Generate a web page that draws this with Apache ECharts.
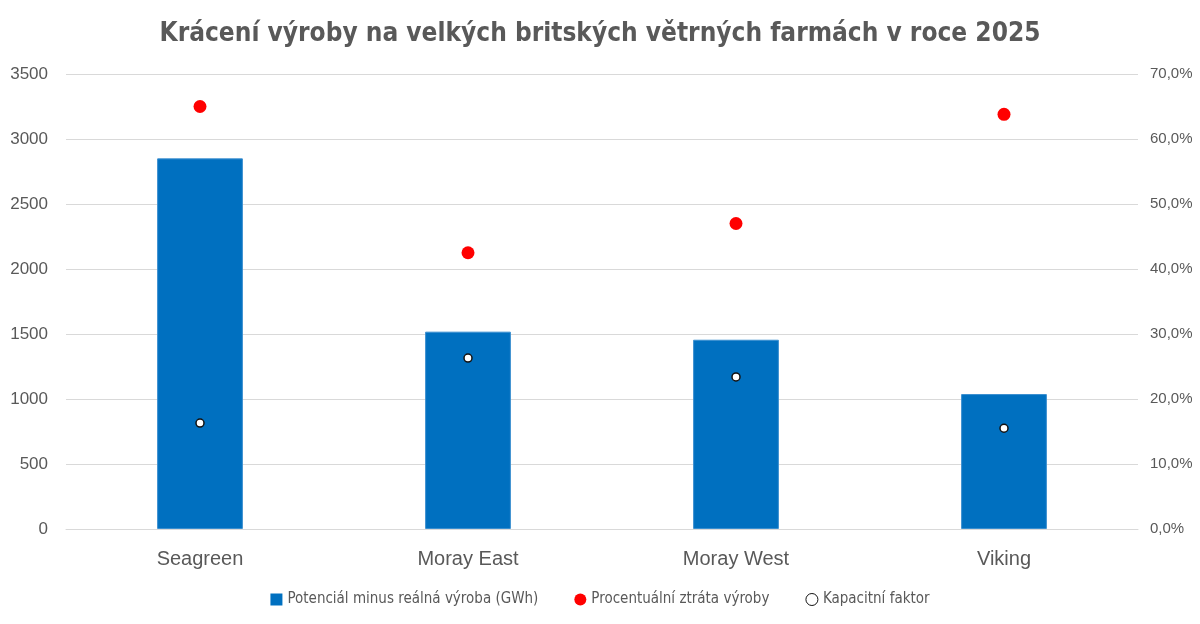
<!DOCTYPE html>
<html>
<head>
<meta charset="utf-8">
<script src="https://cdn.jsdelivr.net/npm/echarts@6/dist/echarts.min.js"></script>
<style>
  html, body { margin: 0; padding: 0; background: #fff; }
  #chart { width: 1200px; height: 624px; }
</style>
</head>
<body>
<div id="chart"></div>
<script>
'use strict';

const farms = ['Seagreen', 'Moray East', 'Moray West', 'Viking'];
const lostGwh = [2851, 1518, 1456, 1038];
const lossPct = [65.0, 42.5, 47.0, 63.8];
const capFactor = [16.3, 26.3, 23.4, 15.5];

const leftTicks = [0, 500, 1000, 1500, 2000, 2500, 3000, 3500];
const rightTicks = [0, 10, 20, 30, 40, 50, 60, 70];

const grey = '#595959';
const gridLine = '#d9d9d9';
const narrow = 'DejaVu Sans Condensed';

const fmtPct = (v) => v.toFixed(1).replace('.', ',') + '%';

const chart = echarts.init(document.getElementById('chart'), null, {renderer: 'canvas'});

chart.setOption({
    animation: false,
    title: {
        text: 'Krácení výroby na velkých britských větrných farmách v roce 2025',
        left: 'center',
        top: 16,
        textStyle: {
            fontFamily: narrow,
            fontWeight: 'bold',
            fontSize: 26,
            color: grey
        }
    },
    legend: {
        bottom: 12,
        left: 'center',
        itemGap: 36,
        itemWidth: 12,
        itemHeight: 12,
        textStyle: {fontFamily: narrow, fontSize: 15, color: grey},
        data: [
            {name: 'Potenciál minus reálná výroba (GWh)', icon: 'rect', itemStyle: {color: '#0070C0', borderWidth: 0}},
            {name: 'Procentuální ztráta výroby', icon: 'circle'},
            {name: 'Kapacitní faktor', icon: 'circle', itemStyle: {borderWidth: 1}}
        ]
    },
    grid: {left: 66, right: 62, top: 74, bottom: 95},
    xAxis: {
        type: 'category',
        data: farms,
        axisLine: {show: true, lineStyle: {color: gridLine}},
        axisTick: {show: false},
        axisLabel: {fontFamily: 'Liberation Sans', fontSize: 20, color: grey, margin: 20}
    },
    yAxis: [
        {
            type: 'value',
            min: leftTicks[0],
            max: leftTicks[leftTicks.length - 1],
            interval: leftTicks[1] - leftTicks[0],
            axisLine: {show: false},
            axisTick: {show: false},
            splitLine: {lineStyle: {color: gridLine, width: 1}},
            axisLabel: {
                fontFamily: 'Liberation Sans', fontSize: 17, color: grey, margin: 18,
                formatter: (v) => String(v)
            }
        },
        {
            type: 'value',
            min: rightTicks[0],
            max: rightTicks[rightTicks.length - 1],
            interval: rightTicks[1] - rightTicks[0],
            axisLine: {show: false},
            axisTick: {show: false},
            splitLine: {show: false},
            axisLabel: {
                fontFamily: 'Liberation Sans', fontSize: 15, color: grey, margin: 12,
                formatter: fmtPct
            }
        }
    ],
    series: [
        {
            name: 'Potenciál minus reálná výroba (GWh)',
            type: 'bar',
            data: lostGwh,
            barWidth: '32%',
            itemStyle: {color: '#0070C0', borderColor: '#3a8fd0', borderWidth: 1}
        },
        {
            name: 'Procentuální ztráta výroby',
            type: 'scatter',
            yAxisIndex: 1,
            data: lossPct,
            symbol: 'circle',
            symbolSize: 13,
            itemStyle: {color: '#ff0000', opacity: 1},
            z: 3
        },
        {
            name: 'Kapacitní faktor',
            type: 'scatter',
            yAxisIndex: 1,
            data: capFactor,
            symbol: 'circle',
            symbolSize: 8,
            itemStyle: {color: '#ffffff', borderColor: '#111111', borderWidth: 1.5, opacity: 1},
            z: 4
        }
    ]
});
</script>
</body>
</html>
